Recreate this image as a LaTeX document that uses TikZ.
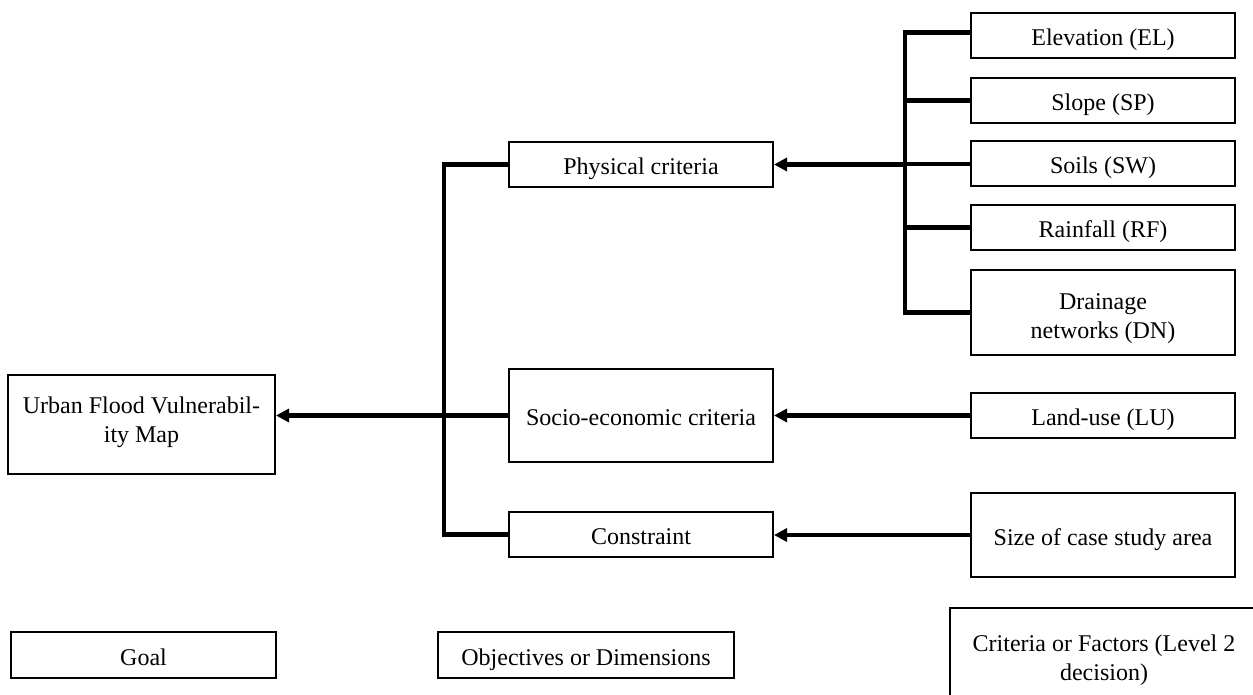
\documentclass[tikz,border=0pt]{standalone}
\usepackage{fontspec}
\setmainfont{Liberation Serif}
\usetikzlibrary{arrows.meta}

\begin{document}
\begin{tikzpicture}[
  x=0.5pt, y=-0.5pt,
  font=\fontsize{12}{14.5}\selectfont,
  frame/.style={draw, line width=1pt, inner sep=2pt,
                minimum width=132pt, minimum height=22.5pt},
  box/.style={frame, text height=12pt, text depth=2pt},
  twoline/.style={frame, label={[align=center, yshift=#1]center:\boxtext}},
  link/.style={line width=2.2pt},
  feed/.style={line width=2.2pt, -{Triangle[length=6.5pt,width=6.5pt]}},
]
\useasboundingbox (0,0) rectangle (1253,695);

% goal
\node[frame, minimum width=133.5pt, minimum height=49.5pt,
      label={[align=center, yshift=1.25pt]center:Urban Flood Vulnerabil-\\ity Map}]
  (goal) at (141.5,424.5) {};

% objectives
\node[box] (phys) at (641,164.5) {Physical criteria};
\node[box, minimum height=46.5pt] (socio) at (641,415.5) {Socio-economic criteria};
\node[box] (cons) at (641,534.5) {Constraint};

% criteria / factors
\node[box] (elev)  at (1103,35.5)  {Elevation (EL)};
\node[box] (slope) at (1103,100.5) {Slope (SP)};
\node[box] (soils) at (1103,164)   {Soils (SW)};
\node[box] (rain)  at (1103,227.5) {Rainfall (RF)};
\node[frame, minimum height=42.5pt,
      label={[align=center, yshift=-3pt]center:Drainage\\networks (DN)}]
  (drain) at (1103,312.5) {};
\node[box] (land)  at (1103,415.5) {Land-use (LU)};
\node[box, minimum height=42pt] (size) at (1103,535) {Size of case study area};

% legend
\node[box, minimum width=132.5pt, minimum height=23pt] (lgoal) at (143.5,655) {Goal};
\node[box, minimum width=148pt, minimum height=23pt] (lobj) at (586,655) {Objectives or Dimensions};
\node[frame, minimum width=154pt, minimum height=50pt,
      label={[align=center, yshift=-1pt]center:Criteria or Factors (Level 2\\decision)}]
  (lcrit) at (1104,658) {};

% trunk lines
\coordinate (t1) at (444,0);
\coordinate (t2) at (905,0);

\draw[link] (phys.west) -| (t1 |- cons.west) -- (cons.west);
\draw[feed] (socio.west) -- (socio.west -| goal.east);

\draw[link] (elev.west) ++(0,-3) -| (t2 |- drain.west) -- (drain.west);
\draw[link] (slope.west) -- (slope.west -| t2);
\draw[link] (soils.west) -- (soils.west -| t2);
\draw[link] (rain.west) -- (rain.west -| t2);
\draw[feed] (t2 |- phys.east) -- (phys.east);

\draw[feed] (land.west) -- (socio.east);
\draw[feed] (size.west) -- (size.west -| cons.east);
\end{tikzpicture}
\end{document}
